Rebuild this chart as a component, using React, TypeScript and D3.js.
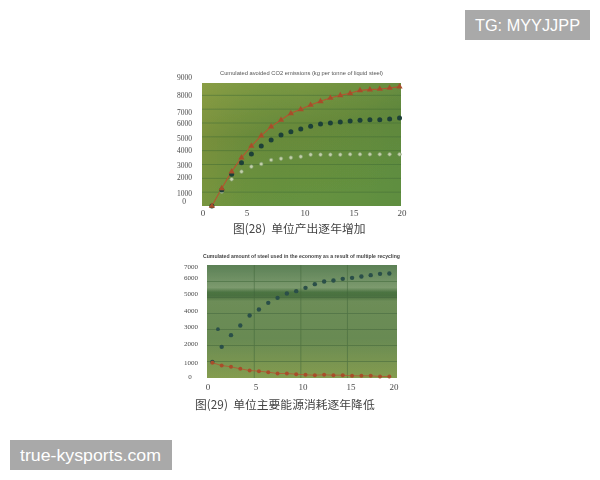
import React from "react";
import * as d3 from "d3";

const years = d3.range(1, 21);
const upperAvoided = [0, 1277, 2482, 3494, 4337, 5084, 5735, 6217, 6699, 6988, 7301, 7566, 7807, 8000, 8145, 8361, 8410, 8458, 8530, 8627];
const middleAvoided = [0, 1157, 2289, 3133, 3759, 4337, 4771, 5133, 5373, 5566, 5759, 5928, 6000, 6072, 6145, 6193, 6241, 6241, 6289, 6361];
const lowerAvoided = [0, 1036, 1928, 2482, 2843, 3036, 3325, 3422, 3494, 3566, 3711, 3711, 3711, 3711, 3735, 3735, 3735, 3735, 3735, 3735];

const recyclingX = d3.range(0.5, 20, 1);
const steelUsed = [979, 1917, 2646, 3250, 3875, 4250, 4667, 4979, 5250, 5396, 5604, 5833, 6000, 6063, 6167, 6229, 6313, 6396, 6479, 6500];
const primaryDecline = [917, 750, 667, 542, 438, 396, 333, 250, 250, 208, 167, 146, 167, 146, 146, 104, 104, 104, 63, 63];
const steelOutlierX = [1.1];
const steelOutlierY = [3020];

const xTicks = [0, 5, 10, 15, 20];
const topYTicks = [0, 1000, 2000, 3000, 4000, 5000, 6000, 7000, 8000, 9000];
const bottomYTicks = [0, 1000, 2000, 3000, 4000, 5000, 6000, 7000];
const topTitle = "Cumulated avoided CO2 emissions (kg per tonne of liquid steel)";
const bottomTitle = "Cumulated amount of steel used in the economy as a result of multiple recycling";
const topCaption = "图(28)  单位产出逐年增加";
const bottomCaption = "图(29)  单位主要能源消耗逐年降低";

// Printed tick labels sit unevenly on the scanned page.
const topXLabel = d3.scaleLinear().domain([0, 5, 10, 15, 20]).range([203, 247, 305, 354, 402]);
const topYLabel = d3.scaleLinear().domain(topYTicks).range([202, 194, 178, 166, 151, 139, 124, 113, 96, 78]);
const botXLabel = d3.scaleLinear().domain([0, 5, 10, 15, 20]).range([208, 256, 303, 351, 394]);
const botYLabel = d3.scaleLinear().domain(bottomYTicks).range([377, 363, 344, 327, 311, 294, 278, 267]);

const topX = d3.scaleLinear().domain([0, 20]).range([202, 399.5]);
const topY = d3.scaleLinear().domain([0, 9000]).range([206, 81.5]);
const botX = d3.scaleLinear().domain([0, 20]).range([207.7, 394]);
const botY = d3.scaleLinear().domain([0, 7000]).range([377.5, 265.5]);

const triangle = d3.symbol().type(d3.symbolTriangle).size(17);
const serif = "'Liberation Serif', 'DejaVu Serif', serif";
const cjk = "'Noto Sans CJK SC', sans-serif";
const sans = "'Liberation Sans', sans-serif";

function GridLines({ x0, x1, y0, y1, rows, cols, color }: any) {
  return (
    <g stroke={color} strokeWidth={0.8} opacity={0.6}>
      {rows.map((y: number) => <line key={"r" + y} x1={x0} x2={x1} y1={y} y2={y} />)}
      {cols.map((x: number) => <line key={"c" + x} x1={x} x2={x} y1={y0} y2={y1} />)}
    </g>
  );
}

export default function App() {
  const line1 = d3.line<number>().x((_, i) => topX(years[i])).y((d) => topY(d));
  const line2 = d3.line<number>().x((_, i) => botX(recyclingX[i])).y((d) => botY(d));
  return (
    <svg width={600} height={480} viewBox="0 0 600 480" style={{ position: "absolute", left: 0, top: 0, background: "#fff" }}>
      <defs>
        <linearGradient id="g1" x1="0" y1="0" x2="0.25" y2="1">
          <stop offset="0" stopColor="#7f9c46" />
          <stop offset="0.45" stopColor="#67893a" />
          <stop offset="1" stopColor="#66923f" />
        </linearGradient>
        <linearGradient id="g1r" x1="0" y1="0" x2="1" y2="0">
          <stop offset="0" stopColor="#a3a040" stopOpacity="0.3" />
          <stop offset="0.5" stopColor="#5b8a3c" stopOpacity="0" />
          <stop offset="1" stopColor="#3f7d45" stopOpacity="0.2" />
        </linearGradient>
        <linearGradient id="g2" x1="0" y1="0" x2="0" y2="1">
          <stop offset="0" stopColor="#5b8055" />
          <stop offset="0.2" stopColor="#7c9a6e" />
          <stop offset="0.24" stopColor="#4c7442" />
          <stop offset="0.275" stopColor="#4a7040" />
          <stop offset="0.32" stopColor="#6d8d58" />
          <stop offset="0.65" stopColor="#688a52" />
          <stop offset="1" stopColor="#849c50" />
        </linearGradient>
        <filter id="scan" x="-5%" y="-5%" width="110%" height="110%">
          <feGaussianBlur stdDeviation="0.6" />
        </filter>
        <filter id="scanSoft" x="-5%" y="-5%" width="110%" height="110%">
          <feGaussianBlur stdDeviation="0.3" />
        </filter>
      </defs>

      <g filter="url(#scan)">
        <rect x={202} y={83} width={199} height={123} fill="url(#g1)" />
        <rect x={202} y={83} width={199} height={123} fill="url(#g1r)" />
        <GridLines x0={202} x1={401} y0={83} y1={206} color="#3f6a35"
          rows={topYTicks.slice(1, 9).map((d) => topY(d))} cols={[]} />
        <path d={line1(upperAvoided) ?? ""} fill="none" stroke="#b5552f" strokeWidth={1.1} />
        <g fill="#c3d0a8" stroke="#7f9a70" strokeWidth={0.6}>
          {lowerAvoided.map((d, i) => <circle key={i} cx={topX(years[i])} cy={topY(d)} r={1.8} />)}
        </g>
        <g fill="#1f4038">
          {middleAvoided.map((d, i) => <circle key={i} cx={topX(years[i])} cy={topY(d)} r={2.5} />)}
        </g>
        <g fill="#a84e2c">
          {upperAvoided.map((d, i) => (
            <path key={i} d={triangle() ?? ""} transform={`translate(${topX(years[i])},${topY(d)})`} />
          ))}
        </g>

        <rect x={207} y={265} width={190} height={113} fill="url(#g2)" />
        <GridLines x0={207} x1={397} y0={265} y1={378} color="#3d6238"
          rows={bottomYTicks.slice(1, 7).map((d) => botY(d))}
          cols={[5, 10, 15].map((d) => botX(d))} />
        <path d={line2(primaryDecline) ?? ""} fill="none" stroke="#b5552f" strokeWidth={0.8} />
        <g fill="#2b4f48">
          {steelUsed.map((d, i) => <circle key={i} cx={botX(recyclingX[i])} cy={botY(d)} r={2.2} />)}
          {steelOutlierX.map((d, i) => <circle key={i} cx={botX(d)} cy={botY(steelOutlierY[i])} r={1.9} />)}
        </g>
        <g fill="#a84e2c">
          {primaryDecline.map((d, i) => <circle key={i} cx={botX(recyclingX[i])} cy={botY(d)} r={2} />)}
        </g>
      </g>

      <g filter="url(#scanSoft)" fill="#4a4a4a" fontFamily={serif}>
        <text x={220} y={75} fontSize={6} textLength={163} lengthAdjust="spacingAndGlyphs" fontFamily={sans} fill="#555">{topTitle}</text>
        <text x={203} y={258} fontSize={6} textLength={197} lengthAdjust="spacingAndGlyphs" fontWeight={700} fontFamily={sans} fill="#444">{bottomTitle}</text>
        {xTicks.map((t) => (
          <text key={t} x={topXLabel(t)} y={216} fontSize={9} textAnchor="middle">{t}</text>
        ))}
        {topYTicks.map((t) => (
          <text key={t} x={t === 0 ? 184 : 177} y={topYLabel(t) + 2.3} fontSize={7.5} textAnchor={t === 0 ? "middle" : "start"}>{t}</text>
        ))}
        {xTicks.map((t) => (
          <text key={t} x={botXLabel(t)} y={390} fontSize={9} textAnchor="middle">{t}</text>
        ))}
        {bottomYTicks.map((t) => (
          <text key={t} x={t === 0 ? 190 : 184} y={botYLabel(t) + 2.3} fontSize={7} textAnchor={t === 0 ? "middle" : "start"}>{t}</text>
        ))}
        <text x={233} y={233} fontSize={11.8} fill="#444" fontFamily={cjk} xmlSpace="preserve">{topCaption}</text>
        <text x={195} y={409} fontSize={11.8} fill="#444" fontFamily={cjk} xmlSpace="preserve">{bottomCaption}</text>
      </g>

      <rect x={465} y={10} width={125} height={30} fill="#a9a9a9" />
      <text x={475} y={31} fontSize={16} fill="#fff" textLength={105} lengthAdjust="spacingAndGlyphs" fontFamily={sans}>TG: MYYJJPP</text>
      <rect x={10} y={440} width={162} height={30} fill="#a9a9a9" />
      <text x={20} y={460.5} fontSize={17} fill="#fff" textLength={141} lengthAdjust="spacingAndGlyphs" fontFamily={sans}>true-kysports.com</text>
    </svg>
  );
}
